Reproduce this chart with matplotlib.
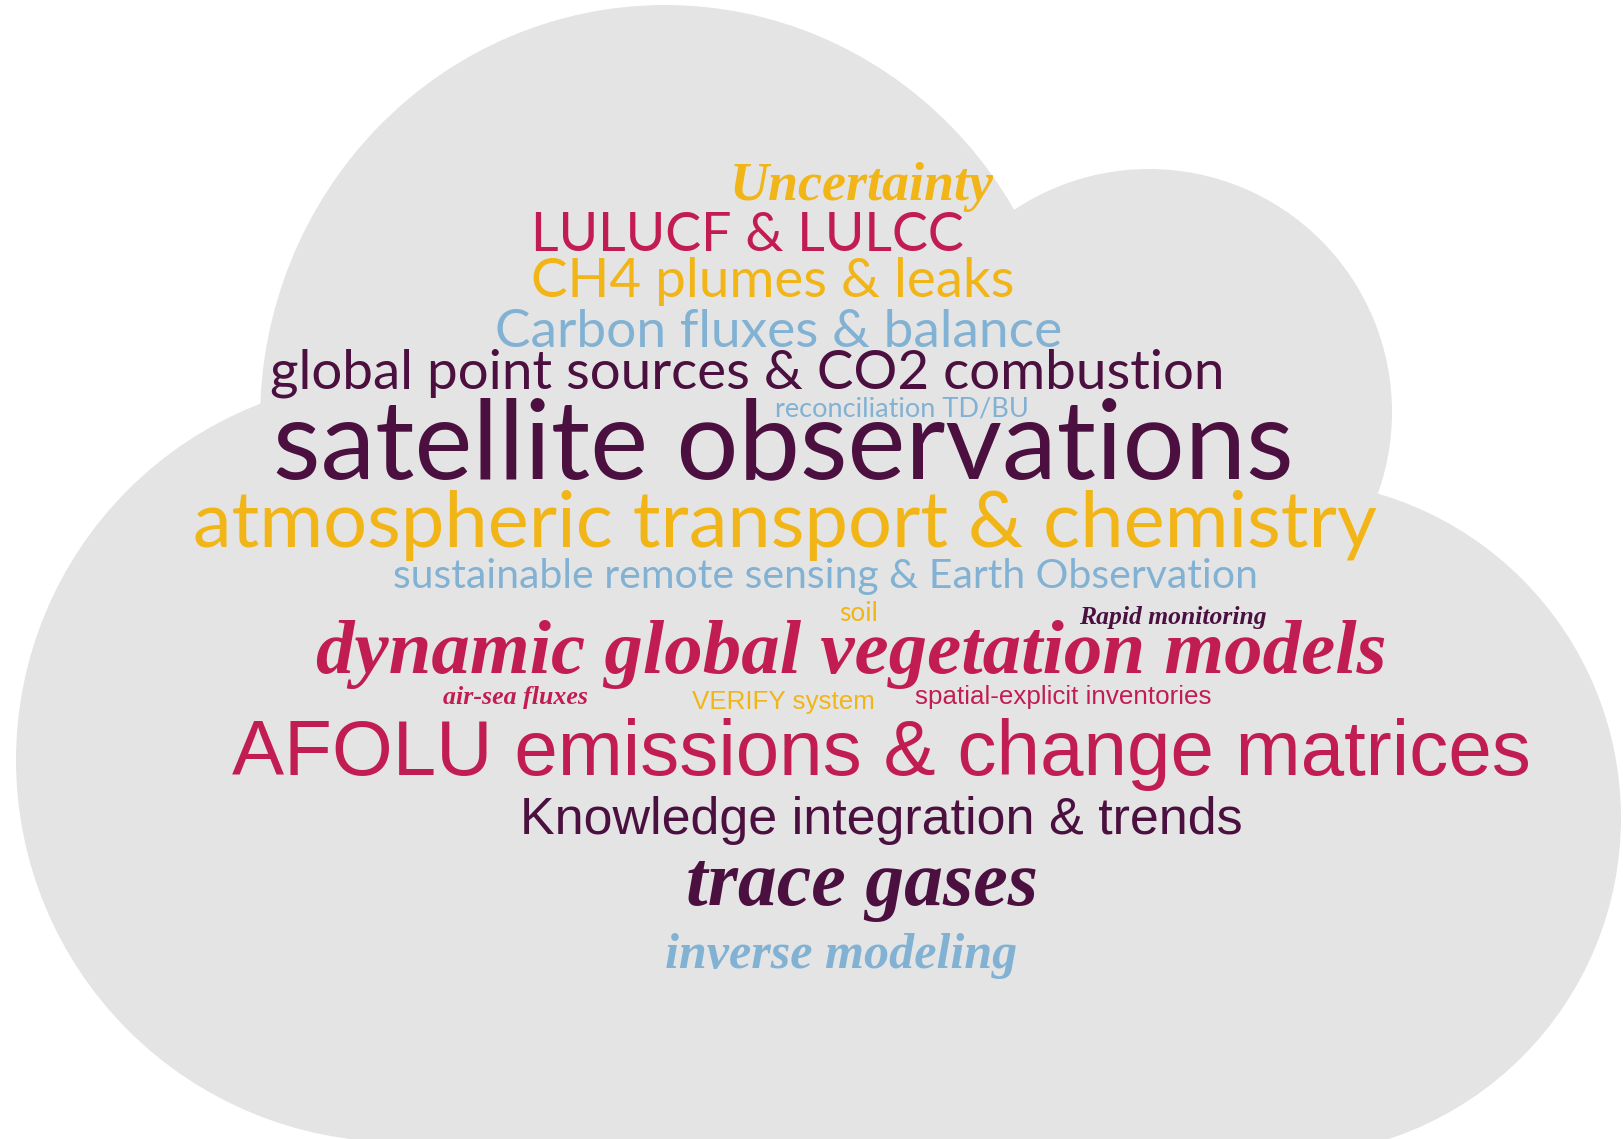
import matplotlib.pyplot as plt
from matplotlib.patches import Circle, Ellipse, Rectangle

W, H = 1624, 1139

# word cloud terms, top to bottom
words = [
    "Uncertainty",
    "LULUCF & LULCC",
    "CH4 plumes & leaks",
    "Carbon fluxes & balance",
    "global point sources & CO2 combustion",
    "reconciliation TD/BU",
    "satellite observations",
    "atmospheric transport & chemistry",
    "sustainable remote sensing & Earth Observation",
    "soil",
    "Rapid monitoring",
    "dynamic global vegetation models",
    "air-sea fluxes",
    "VERIFY system",
    "spatial-explicit inventories",
    "AFOLU emissions & change matrices",
    "Knowledge integration & trends",
    "trace gases",
    "inverse modeling",
]
word_colors = [
    "amber", "crimson", "amber", "blue", "plum", "blue", "plum", "amber",
    "blue", "amber", "plum", "crimson", "crimson", "amber", "crimson",
    "crimson", "plum", "plum", "blue",
]
word_fonts = [
    "script", "thin", "thin", "thin", "thin", "thin", "thin", "thin",
    "thin", "thin", "script", "script", "script", "arial", "arial",
    "arial", "arial", "script", "script",
]

# layout: left edge, right edge, baseline (pixels)
layout = [
    (730, 994, 200),
    (531, 963, 251),
    (531, 1015, 297),
    (495, 1062, 347),
    (271, 1224, 389),
    (775, 1028, 417),
    (274, 1293, 478),
    (193, 1377, 547),
    (393, 1257, 588),
    (839, 878, 621),
    (1079, 1266, 624),
    (316, 1386, 673),
    (443, 588, 704),
    (692, 875, 709),
    (915, 1212, 704),
    (233, 1530, 775),
    (520, 1243, 834),
    (686, 1038, 905),
    (665, 1017, 968),
]

palette = {
    "amber": "#f2b517",
    "crimson": "#c21d52",
    "blue": "#82b2d3",
    "plum": "#4b1040",
}
fonts = {
    "thin": dict(family="Lato", weight="normal"),
    "script": dict(family="Liberation Serif", weight="bold", style="italic"),
    "arial": dict(family="Liberation Sans", weight="normal"),
}

fig = plt.figure(figsize=(W / 100, H / 100), dpi=100)
fig.patch.set_facecolor("white")
ax = fig.add_axes([0, 0, 1, 1])
ax.set_xlim(0, W)
ax.set_ylim(H, 0)
ax.axis("off")

# grey cloud
grey = "#e4e4e4"
cloud = [
    Ellipse((665, 420), 810, 830),
    Circle((1149, 412), 243),
    Circle((398, 760), 382),
    Circle((1283, 818), 338),
    Rectangle((398, 420), 885, 800),
]
for p in cloud:
    p.set_facecolor(grey)
    p.set_edgecolor("none")
    ax.add_patch(p)

texts = []
for w, c, f, (x0, x1, yb) in zip(words, word_colors, word_fonts, layout):
    t = ax.text((x0 + x1) / 2, yb, w, color=palette[c], ha="center",
                va="baseline", fontsize=30, **fonts[f])
    texts.append((t, x1 - x0))

# scale each term so its width matches the picture
for _ in range(3):
    fig.canvas.draw()
    r = fig.canvas.get_renderer()
    for t, target in texts:
        width = t.get_window_extent(r).width
        t.set_fontsize(t.get_fontsize() * target / width)

fig.savefig("out.png", dpi=100, facecolor="white")
